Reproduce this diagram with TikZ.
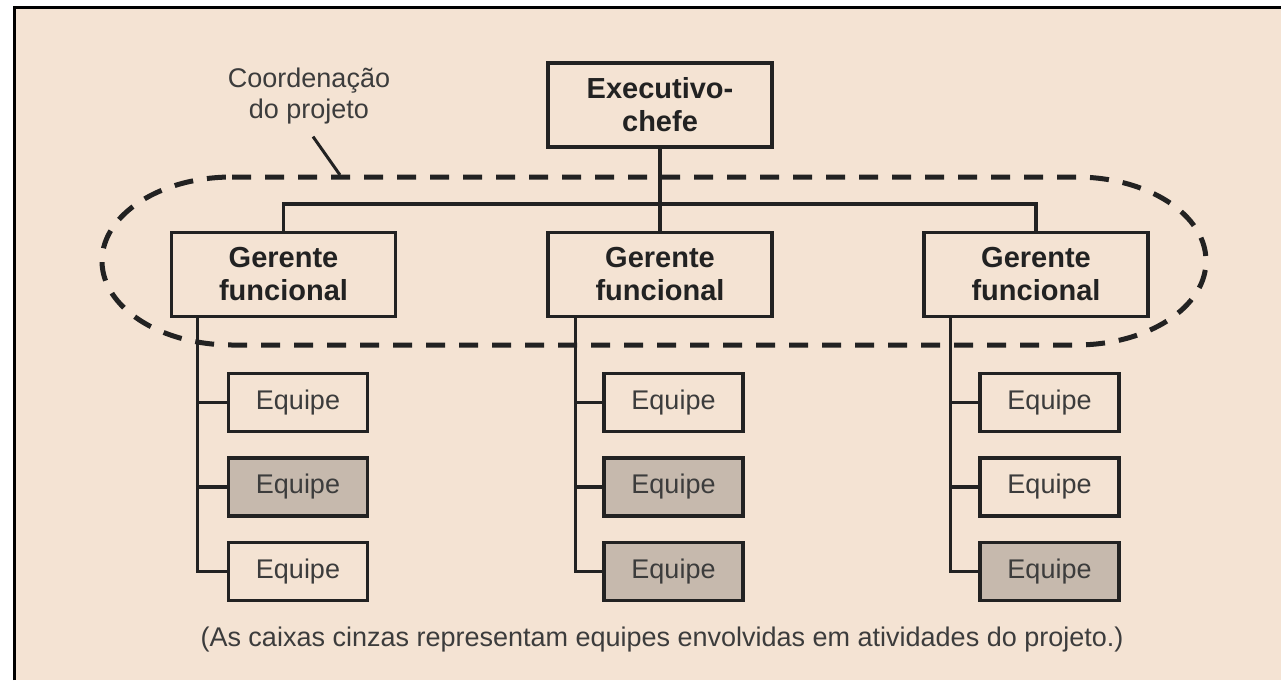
\documentclass[tikz,border=0pt]{standalone}
\usepackage{fontspec}
\setmainfont{Liberation Sans}
\definecolor{bg}{HTML}{F4E3D3}
\definecolor{ink}{HTML}{222222}
\definecolor{txt}{HTML}{3C3C3C}
\definecolor{greybox}{HTML}{C6B9AD}
\begin{document}
\begin{tikzpicture}[x=1pt,y=1pt,
  box/.style={draw=ink, line width=3.4pt, inner sep=0pt, align=center},
  chief/.style={box, minimum width=224pt, minimum height=84pt,
     font=\fontsize{29}{33}\selectfont\bfseries, text=ink},
  team/.style={box, minimum width=139pt, minimum height=58pt,
     font=\fontsize{27}{30}\selectfont, text=txt},
  grey/.style={fill=greybox},
  conn/.style={draw=ink, line width=3.2pt},
  coordline/.style={draw=ink, line width=5pt, dash pattern=on 19pt off 14pt},
  plain/.style={font=\fontsize{27}{31}\selectfont, text=txt, align=center}]
\useasboundingbox (0,0) rectangle (1281,-680);
\fill[bg] (13,-6) rectangle (1281,-680);
\draw[black, line width=3pt] (14,-680) -- (14,-7.5) -- (1281,-7.5);

% top level
\node[chief] (ex) at (660,-105) {Executivo-\\chefe};
\node[chief] (gl) at (283.5,-274.5) {Gerente\\funcional};
\node[chief] (gm) at (660,-274.5) {Gerente\\funcional};
\node[chief] (gr) at (1036,-274.5) {Gerente\\funcional};
\coordinate (bar) at (660,-204);
\draw[conn] (ex.south) -- (gm.north);
\draw[conn] (gl.north) |- (bar) -| (gr.north);

% teams
\node[team] (l1) at (298,-402.5) {Equipe};
\node[team,grey] (l2) at (298,-487) {Equipe};
\node[team] (l3) at (298,-571.5) {Equipe};
\node[team] (m1) at (673.5,-402.5) {Equipe};
\node[team,grey] (m2) at (673.5,-487) {Equipe};
\node[team,grey] (m3) at (673.5,-571.5) {Equipe};
\node[team] (r1) at (1049.5,-402.5) {Equipe};
\node[team] (r2) at (1049.5,-487) {Equipe};
\node[team,grey] (r3) at (1049.5,-571.5) {Equipe};

\draw[conn] ([xshift=28pt]gl.south west) |- (l3.west);
\draw[conn] (l1.west) -- ++(-28,0);
\draw[conn] (l2.west) -- ++(-28,0);
\draw[conn] ([xshift=29pt]gm.south west) |- (m3.west);
\draw[conn] (m1.west) -- ++(-27,0);
\draw[conn] (m2.west) -- ++(-27,0);
\draw[conn] ([xshift=28pt]gr.south west) |- (r3.west);
\draw[conn] (r1.west) -- ++(-27,0);
\draw[conn] (r2.west) -- ++(-27,0);

% project coordination
\draw[coordline] (232,-177) -- (1076,-177)
  arc[start angle=90, end angle=-90, x radius=130, y radius=84]
  -- (232,-345)
  arc[start angle=270, end angle=90, x radius=130, y radius=84] -- cycle;
\node[plain] (coord) at (309,-96) {Coordenação\\do projeto};
\coordinate (lead) at (340,-175);
\draw[ink, line width=3pt] ([xshift=4pt,yshift=-9pt]coord.south) -- (lead);

\node[plain] (cap) at (662,-640)
  {(As caixas cinzas representam equipes envolvidas em atividades do projeto.)};
\end{tikzpicture}
\end{document}
